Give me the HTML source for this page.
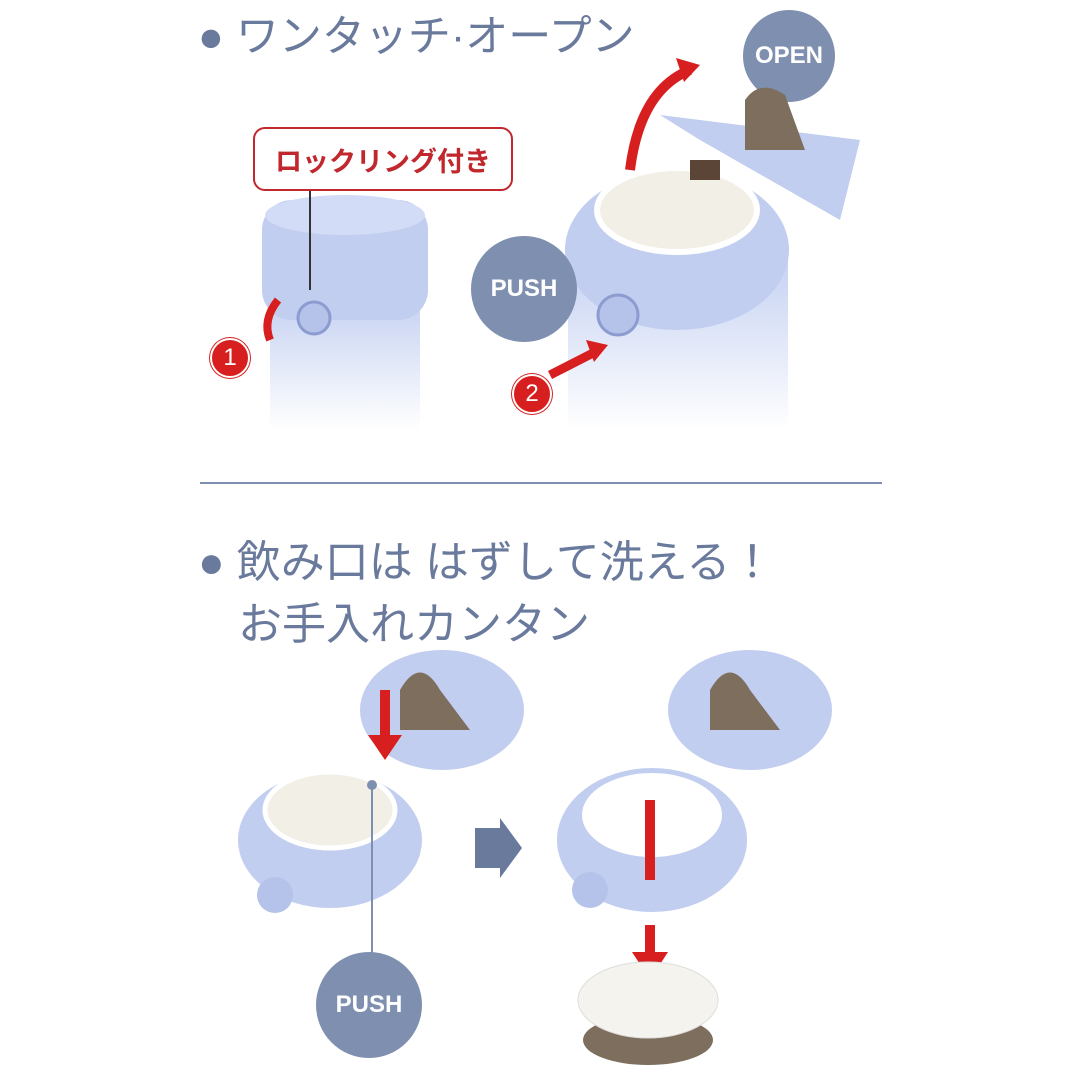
<!DOCTYPE html>
<html><head><meta charset="utf-8"><style>
body{margin:0;width:1080px;height:1080px;background:#fff;position:relative;overflow:hidden;font-family:"Liberation Sans","Noto Sans CJK JP",sans-serif}
.t{position:absolute;color:#6a7a9c;white-space:nowrap}
.c{position:absolute;border-radius:50%;background:#7f8fb0;color:#fff;font-weight:bold;display:flex;align-items:center;justify-content:center;font-family:"Liberation Sans",sans-serif}
.r{position:absolute;border-radius:50%;background:#d81f1f;color:#fff;display:flex;align-items:center;justify-content:center;font-size:24px;border:2px solid #fff;box-shadow:0 0 0 1px #d81f1f}
</style></head><body>
<div class="t" style="left:198px;top:2px;font-size:43px">● ワンタッチ·オープン</div>
<div class="c" style="left:743px;top:10px;width:92px;height:92px;font-size:24px">OPEN</div>

<svg width="1080" height="1080" style="position:absolute;left:0;top:0">
<defs><linearGradient id="b" x1="0" y1="0" x2="0" y2="1"><stop offset="0" stop-color="#c6d2f2"/><stop offset="1" stop-color="#fff"/></linearGradient></defs>
<rect x="270" y="300" width="150" height="130" fill="url(#b)"/>
<rect x="262" y="200" width="166" height="120" rx="30" fill="#c2cef0"/>
<ellipse cx="345" cy="215" rx="80" ry="20" fill="#d2dcf6"/>
<circle cx="314" cy="318" r="16" fill="#b5c2ea" stroke="#8c9bd0" stroke-width="3"/>
<path d="M278 300 Q262 320 270 340" stroke="#d81f1f" stroke-width="8" fill="none"/>
<line x1="310" y1="190" x2="310" y2="290" stroke="#333" stroke-width="2"/>
<rect x="568" y="260" width="220" height="170" fill="url(#b)"/>
<ellipse cx="677" cy="250" rx="112" ry="80" fill="#c2cef0"/>
<ellipse cx="677" cy="210" rx="80" ry="42" fill="#f2efe6" stroke="#fff" stroke-width="6"/>
<path d="M660 115 L860 140 L840 220 L700 140Z" fill="#c2cef0"/>
<path d="M745 100 Q760 78 785 95 L805 150 L745 150Z" fill="#7d6e5e"/>
<rect x="690" y="160" width="30" height="20" fill="#5a4536"/>
<circle cx="618" cy="315" r="20" fill="#b5c2ea" stroke="#8c9bd0" stroke-width="3"/>
<path d="M630 170 Q640 90 690 70" stroke="#d81f1f" stroke-width="10" fill="none"/>
<polygon points="700,65 676,58 684,82" fill="#d81f1f"/>
<line x1="550" y1="375" x2="595" y2="352" stroke="#d81f1f" stroke-width="9"/>
<polygon points="608,345 586,340 594,362" fill="#d81f1f"/>
<line x1="200" y1="483" x2="882" y2="483" stroke="#7f8fb0" stroke-width="2"/>
<ellipse cx="442" cy="710" rx="82" ry="60" fill="#c2cef0"/>
<path d="M400 690 Q420 655 440 690 L470 730 L400 730Z" fill="#7d6e5e"/>
<ellipse cx="330" cy="840" rx="92" ry="68" fill="#c2cef0"/>
<ellipse cx="330" cy="810" rx="65" ry="38" fill="#f2efe6" stroke="#fff" stroke-width="5"/>
<circle cx="275" cy="895" r="18" fill="#b5c2ea"/>
<line x1="385" y1="690" x2="385" y2="738" stroke="#d81f1f" stroke-width="10"/>
<polygon points="368,735 402,735 385,760" fill="#d81f1f"/>
<line x1="372" y1="785" x2="372" y2="955" stroke="#7f8fb0" stroke-width="2"/>
<circle cx="372" cy="785" r="5" fill="#7f8fb0"/>
<polygon points="475,828 500,828 500,818 522,848 500,878 500,868 475,868" fill="#6a7a9c"/>
<ellipse cx="750" cy="710" rx="82" ry="60" fill="#c2cef0"/>
<path d="M710 690 Q730 655 750 690 L780 730 L710 730Z" fill="#7d6e5e"/>
<ellipse cx="652" cy="840" rx="95" ry="72" fill="#c2cef0"/>
<ellipse cx="652" cy="815" rx="70" ry="42" fill="#fff"/>
<circle cx="590" cy="890" r="18" fill="#b5c2ea"/>
<line x1="650" y1="800" x2="650" y2="880" stroke="#d81f1f" stroke-width="10"/>
<line x1="650" y1="925" x2="650" y2="955" stroke="#d81f1f" stroke-width="10"/>
<polygon points="632,952 668,952 650,980" fill="#d81f1f"/>
<ellipse cx="648" cy="1040" rx="65" ry="25" fill="#7d6e5e"/>
<ellipse cx="648" cy="1000" rx="70" ry="38" fill="#f5f3ee" stroke="#ddd"/>
</svg>

<div style="position:absolute;left:253px;top:127px;width:256px;height:60px;border:2px solid #c0282d;border-radius:12px;background:#fff;color:#c0282d;font-size:27px;font-weight:bold;display:flex;align-items:center;justify-content:center">ロックリング付き</div>
<div class="r" style="left:210px;top:338px;width:36px;height:36px">1</div>
<div class="r" style="left:512px;top:374px;width:36px;height:36px">2</div>
<div class="c" style="left:471px;top:236px;width:106px;height:106px;font-size:24px">PUSH</div>
<div class="t" style="left:198px;top:526px;font-size:44px">● 飲み口は はずして洗える！</div>
<div class="t" style="left:238px;top:588px;font-size:44px">お手入れカンタン</div>
<div class="c" style="left:316px;top:952px;width:106px;height:106px;font-size:24px">PUSH</div>
</body></html>
